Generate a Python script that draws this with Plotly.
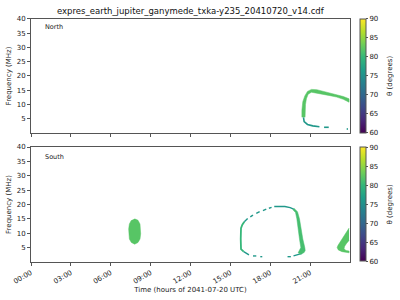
import plotly.graph_objects as go
from plotly.colors import sample_colorscale

# ---------------- data (hours of day, MHz, theta in degrees) ----------------
title = "expres_earth_jupiter_ganymede_txka-y235_20410720_v14.cdf"
tick_hours = [0, 3, 6, 9, 12, 15, 18, 21]
tick_labels = ["00:00", "03:00", "06:00", "09:00", "12:00", "15:00", "18:00", "21:00"]
freq_ticks = [5, 10, 15, 20, 25, 30, 35, 40]
theta_ticks = [60, 65, 70, 75, 80, 85, 90]

# North: thick arc (outline polygon)
north_band_t = [20.38, 20.38, 20.45, 20.6, 20.8, 21.1, 21.5, 22.0, 22.5, 23.0, 23.5, 23.93,
                23.93, 23.5, 23.0, 22.5, 22.0, 21.5, 21.1, 20.85, 20.72, 20.65, 20.62, 20.62]
north_band_f = [5.5, 8.0, 11.0, 13.0, 14.6, 15.3, 15.2, 14.6, 14.0, 13.5, 12.8, 12.0,
                10.8, 11.8, 12.6, 13.1, 13.5, 14.1, 14.3, 13.6, 12.0, 10.0, 8.0, 5.5]
north_band_theta = 82
# North: thin low-frequency tail (None = gap)
north_tail_t = [20.5, 20.55, 20.8, 21.2, 21.7, None, 22.05, 22.4, None, 23.75, 23.85]
north_tail_f = [5.5, 4.0, 3.0, 2.5, 2.2, None, 2.0, 2.0, None, 1.4, 1.4]
north_tail_theta = 76

# South: isolated blob
south_blob_t = [7.8, 8.05, 8.2, 8.25, 8.25, 8.2, 8.05, 7.8, 7.55, 7.4, 7.35, 7.35, 7.4, 7.55]
south_blob_f = [15.0, 14.5, 13.2, 11.5, 9.8, 8.0, 6.8, 6.2, 6.8, 8.0, 9.8, 11.5, 13.2, 14.5]
south_blob_theta = 82

# South: loop left edge
south_left_t = [16.0, 15.8, 15.78, 15.8, 15.9, 16.05]
south_left_f = [3.6, 4.5, 8.0, 11.8, 13.0, 14.0]
south_left_theta = 80
# South: loop top (dotted) and bottom (dashed)
south_top_t = [16.05, 16.3, None, 16.5, 16.7, None, 16.95, 17.2, None, 17.45, 17.7, None,
               17.9, 18.1, None, 18.3, 18.7, 19.1, 19.5, 19.8]
south_top_f = [14.0, 15.1, None, 15.7, 16.3, None, 16.9, 17.5, None, 17.9, 18.4, None,
               18.7, 19.0, None, 19.3, 19.4, 19.3, 18.9, 18.3]
south_bot_t = [16.0, 16.4, None, 16.7, 16.95, None, 17.25, 17.4, None, 19.3, 19.55, None,
               19.75, 20.1, 20.4]
south_bot_f = [3.6, 2.5, None, 2.1, 2.1, None, 1.85, 1.85, None, 1.85, 1.85, None,
               2.1, 2.5, 3.0]
south_thin_theta = 76
# South: loop right thick band
south_right_t = [19.8, 20.05, 20.2, 20.3, 20.45, 20.6, 20.63, 20.55, 20.3, 20.1,
                 20.2, 20.3, 20.2, 20.1, 20.0, 19.9, 19.7]
south_right_f = [18.6, 17.5, 15.0, 12.0, 8.0, 5.0, 4.0, 3.3, 2.7, 3.2,
                 4.0, 5.0, 8.0, 12.0, 15.0, 17.2, 18.2]
south_right_theta = 81
# South: wedge at end of day
south_wedge_t = [23.93, 23.6, 23.3, 23.1, 23.03, 23.12, 23.4, 23.7, 23.93,
                 23.93, 23.7, 23.55, 23.6, 23.75, 23.93]
south_wedge_f = [11.8, 9.5, 7.3, 5.8, 5.0, 4.2, 3.6, 3.3, 3.2,
                 3.8, 4.0, 4.6, 5.5, 6.5, 7.5]
south_wedge_theta = 82

# ---------------- figure ----------------
TMIN, TMAX = 60, 90


def col(theta):
    return sample_colorscale("Viridis", [(theta - TMIN) / (TMAX - TMIN)])[0]


fig = go.Figure()


def poly(t, f, theta, xa, ya):
    fig.add_trace(go.Scatter(x=t, y=f, mode="lines", fill="toself", fillcolor=col(theta),
                             line=dict(color=col(theta), width=0.5), xaxis=xa, yaxis=ya,
                             showlegend=False, hoverinfo="skip"))


def line(t, f, theta, xa, ya, w=1.6):
    fig.add_trace(go.Scatter(x=t, y=f, mode="lines", line=dict(color=col(theta), width=w),
                             xaxis=xa, yaxis=ya, showlegend=False, hoverinfo="skip",
                             connectgaps=False))


poly(north_band_t, north_band_f, north_band_theta, "x", "y")
line(north_tail_t, north_tail_f, north_tail_theta, "x", "y")

poly(south_blob_t, south_blob_f, south_blob_theta, "x2", "y2")
line(south_left_t, south_left_f, south_left_theta, "x2", "y2", 1.8)
line(south_top_t, south_top_f, south_thin_theta, "x2", "y2", 1.4)
line(south_bot_t, south_bot_f, south_thin_theta, "x2", "y2", 1.4)
poly(south_right_t, south_right_f, south_right_theta, "x2", "y2")
poly(south_wedge_t, south_wedge_f, south_wedge_theta, "x2", "y2")

# dummy traces to show colorbars
for xa, ya, ca in [("x", "y", "coloraxis"), ("x2", "y2", "coloraxis2")]:
    fig.add_trace(go.Scatter(x=[None], y=[None], mode="markers",
                             marker=dict(color=[80], coloraxis=ca),
                             xaxis=xa, yaxis=ya, showlegend=False))

FONT = "DejaVu Sans"
tick_font = dict(family=FONT, size=7, color="#222")
axis_common = dict(showline=True, linecolor="#555", linewidth=1, mirror=True,
                   ticks="outside", ticklen=3, tickcolor="#555", showgrid=False,
                   zeroline=False, tickfont=tick_font, automargin=False)

top_dom = [0.5567, 0.9367]
bot_dom = [0.1267, 0.51]
xdom = [0.0775, 0.875]

cb_common = dict(thickness=6, len=0.38, lenmode="fraction", x=0.9, xanchor="left",
                 outlinecolor="#555", outlinewidth=1, ticks="outside", ticklen=2,
                 tickcolor="#555", tickvals=theta_ticks, tickfont=tick_font,
                 yanchor="middle", xpad=0, ypad=0)

fig.update_layout(
    width=400, height=300,
    margin=dict(l=0, r=0, t=0, b=0, autoexpand=False),
    paper_bgcolor="white", plot_bgcolor="white",
    font=dict(family=FONT, size=7, color="#222"),
    xaxis=dict(domain=xdom, anchor="y", range=[0, 24], tickvals=tick_hours,
               showticklabels=False, **axis_common),
    yaxis=dict(domain=top_dom, anchor="x", range=[0, 40], tickvals=freq_ticks,
               title=dict(text="Frequency (MHz)", font=dict(family=FONT, size=7), standoff=4),
               **axis_common),
    xaxis2=dict(domain=xdom, anchor="y2", range=[0, 24], tickvals=tick_hours,
                ticktext=tick_labels, tickangle=-30,
                title=dict(text="Time (hours of 2041-07-20 UTC)", font=dict(family=FONT, size=7),
                           standoff=2),
                **axis_common),
    yaxis2=dict(domain=bot_dom, anchor="x2", range=[0, 40], tickvals=freq_ticks,
                title=dict(text="Frequency (MHz)", font=dict(family=FONT, size=7), standoff=4),
                **axis_common),
    coloraxis=dict(colorscale="Viridis", cmin=TMIN, cmax=TMAX,
                   colorbar=dict(y=sum(top_dom) / 2, **cb_common)),
    coloraxis2=dict(colorscale="Viridis", cmin=TMIN, cmax=TMAX,
                    colorbar=dict(y=sum(bot_dom) / 2, **cb_common)),
    annotations=[
        dict(text=title, x=(xdom[0] + xdom[1]) / 2, y=0.965, xref="paper", yref="paper",
             showarrow=False, font=dict(family=FONT, size=8.5, color="#111"),
             xanchor="center", yanchor="middle"),
        dict(text="North", x=0.108, y=0.91, xref="paper", yref="paper", showarrow=False,
             font=dict(family=FONT, size=6.5, color="#222"), xanchor="left", yanchor="middle"),
        dict(text="South", x=0.108, y=0.478, xref="paper", yref="paper", showarrow=False,
             font=dict(family=FONT, size=6.5, color="#222"), xanchor="left", yanchor="middle"),
        dict(text="θ (degrees)", x=0.975, y=sum(top_dom) / 2, xref="paper", yref="paper",
             showarrow=False, textangle=-90, font=dict(family=FONT, size=7, color="#222"),
             xanchor="center", yanchor="middle"),
        dict(text="θ (degrees)", x=0.975, y=sum(bot_dom) / 2, xref="paper", yref="paper",
             showarrow=False, textangle=-90, font=dict(family=FONT, size=7, color="#222"),
             xanchor="center", yanchor="middle"),
    ],
)

fig.write_html("out.html")
